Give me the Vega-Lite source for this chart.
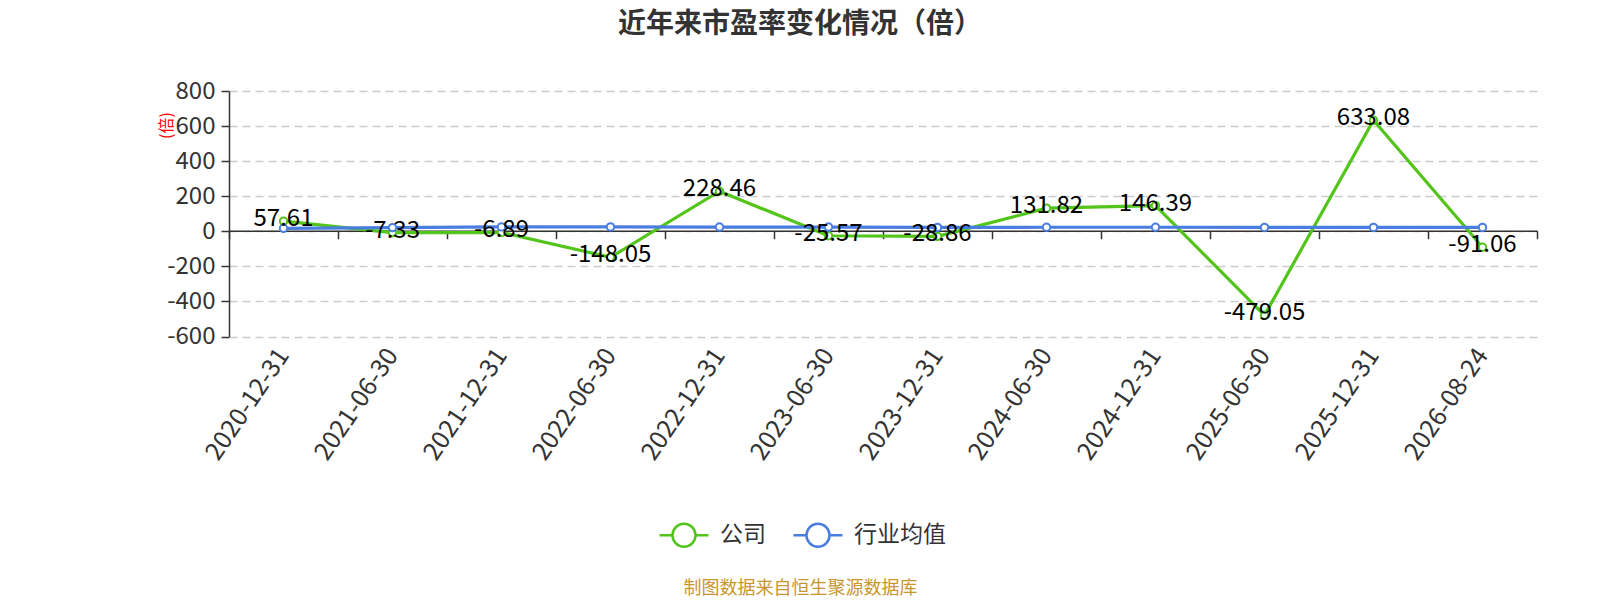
{
  "$schema": "https://vega.github.io/schema/vega-lite/v6.json",
  "autosize": "none",
  "width": 1308,
  "height": 245.5,
  "padding": {"left": 229, "top": 91, "right": 63, "bottom": 263.5},
  "background": "white",
  "config": {
    "font": "Noto Sans CJK SC",
    "view": {"stroke": null}
  },
  "title": {
    "text": "近年来市盈率变化情况（倍）",
    "anchor": "middle",
    "frame": "group",
    "dx": -83,
    "offset": 40,
    "fontSize": 28,
    "fontWeight": "bold",
    "color": "#333333",
    "font": "Noto Sans CJK SC"
  },
  "data": {
    "values": [
      {"date": "2020-12-31", "series": "公司", "value": 57.61},
      {"date": "2021-06-30", "series": "公司", "value": -7.33},
      {"date": "2021-12-31", "series": "公司", "value": -6.89},
      {"date": "2022-06-30", "series": "公司", "value": -148.05},
      {"date": "2022-12-31", "series": "公司", "value": 228.46},
      {"date": "2023-06-30", "series": "公司", "value": -25.57},
      {"date": "2023-12-31", "series": "公司", "value": -28.86},
      {"date": "2024-06-30", "series": "公司", "value": 131.82},
      {"date": "2024-12-31", "series": "公司", "value": 146.39},
      {"date": "2025-06-30", "series": "公司", "value": -479.05},
      {"date": "2025-12-31", "series": "公司", "value": 633.08},
      {"date": "2026-08-24", "series": "公司", "value": -91.06},
      {"date": "2020-12-31", "series": "行业均值", "value": 17},
      {"date": "2021-06-30", "series": "行业均值", "value": 21},
      {"date": "2021-12-31", "series": "行业均值", "value": 25},
      {"date": "2022-06-30", "series": "行业均值", "value": 25},
      {"date": "2022-12-31", "series": "行业均值", "value": 24},
      {"date": "2023-06-30", "series": "行业均值", "value": 24},
      {"date": "2023-12-31", "series": "行业均值", "value": 22},
      {"date": "2024-06-30", "series": "行业均值", "value": 23},
      {"date": "2024-12-31", "series": "行业均值", "value": 23},
      {"date": "2025-06-30", "series": "行业均值", "value": 22},
      {"date": "2025-12-31", "series": "行业均值", "value": 22},
      {"date": "2026-08-24", "series": "行业均值", "value": 22}
    ]
  },
  "resolve": {"axis": {"x": "independent", "y": "independent"}},
  "layer": [
    {
      "mark": {
        "type": "line",
        "strokeWidth": 3.2,
        "point": {"filled": false, "fill": "white", "size": 55, "strokeWidth": 2}
      },
      "encoding": {
        "x": {
          "field": "date",
          "type": "nominal",
          "sort": null,
          "scale": {"paddingInner": 0, "paddingOuter": 0},
          "axis": {
            "orient": "bottom",
            "domain": false,
            "ticks": false,
            "grid": false,
            "labelAngle": -56,
            "labelAlign": "right",
            "labelBaseline": "middle",
            "labelPadding": 14,
            "labelFontSize": 25,
            "labelColor": "#333333",
            "labelFont": "Noto Sans CJK SC",
            "title": "制图数据来自恒生聚源数据库",
            "titleColor": "#c9962e",
            "titleFontSize": 18,
            "titleFontWeight": "normal",
            "titleX": 571,
            "titleY": 252,
            "titleAnchor": "middle",
            "titleAlign": "center",
            "titleBaseline": "middle"
          }
        },
        "y": {
          "field": "value",
          "type": "quantitative",
          "scale": {"domain": [-600, 800], "nice": false},
          "axis": {
            "values": [-600, -400, -200, 0, 200, 400, 600, 800],
            "labelExpr": "'' + datum.value",
            "domain": true,
            "domainColor": "#333333",
            "domainWidth": 1.5,
            "ticks": true,
            "tickColor": "#333333",
            "tickSize": 8,
            "tickWidth": 1.5,
            "labelPadding": 6,
            "labelFontSize": 24,
            "labelColor": "#333333",
            "grid": true,
            "gridColor": "#cccccc",
            "gridDash": [8, 5],
            "gridWidth": 1.5,
            "title": "(倍)",
            "titleColor": "red",
            "titleFontSize": 16,
            "titleFontWeight": "normal",
            "titleAngle": -90,
            "titleX": -63,
            "titleY": 34,
            "titleAlign": "center",
            "titleBaseline": "middle"
          }
        },
        "color": {
          "field": "series",
          "type": "nominal",
          "scale": {"domain": ["公司", "行业均值"], "range": ["#52c41a", "#4a7de0"]},
          "legend": {
            "title": null,
            "orient": "none",
            "direction": "horizontal",
            "legendX": 429,
            "legendY": 418,
            "padding": 0,
            "symbolType": "M-1,0L-0.47,0M0.47,0L1,0M0.47,0A0.47,0.47,0,1,1,-0.47,0A0.47,0.47,0,1,1,0.47,0",
            "symbolSize": 2401,
            "symbolStrokeWidth": 2.5,
            "symbolFillColor": "white",
            "labelFontSize": 23,
            "labelColor": "#333333",
            "labelOffset": 10,
            "columnPadding": 22
          }
        }
      }
    },
    {
      "transform": [{"filter": "datum.series === '公司'"}],
      "mark": {
        "type": "text",
        "fontSize": 24,
        "color": "black",
        "align": "center",
        "baseline": "middle",
        "dy": -2
      },
      "encoding": {
        "x": {
          "field": "date",
          "type": "nominal",
          "sort": null,
          "axis": {
            "orient": "bottom",
            "offset": -105.8,
            "labels": false,
            "title": null,
            "grid": false,
            "domain": true,
            "domainColor": "#333333",
            "domainWidth": 1.5,
            "ticks": true,
            "tickBand": "extent",
            "tickColor": "#333333",
            "tickWidth": 1.5,
            "tickSize": 8
          }
        },
        "y": {
          "field": "value",
          "type": "quantitative",
          "axis": null
        },
        "text": {"field": "value", "type": "nominal"}
      }
    }
  ]
}
